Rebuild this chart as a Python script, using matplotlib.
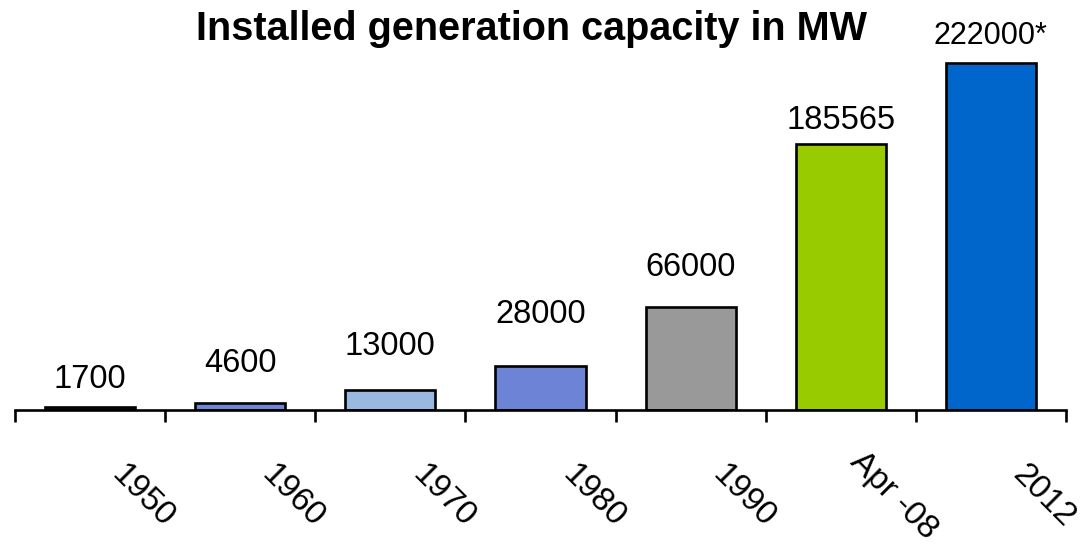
import matplotlib
matplotlib.use("Agg")
import matplotlib.pyplot as plt
import matplotlib.transforms as mtransforms

plt.rcParams["font.family"] = ["Liberation Sans", "DejaVu Sans"]

# data
categories = ["1950", "1960", "1970", "1980", "1990", "Apr -08", "2012"]
bar_heights = [1700, 4600, 13000, 28000, 66000, 170000, 222000]
value_labels = ["1700", "4600", "13000", "28000", "66000", "185565", "222000*"]

colors = ["#1a1a4d", "#6f86d6", "#99b9e1", "#6c83d6", "#999999", "#99cc00", "#0066cc"]
label_gap_px = [19, 31, 35, 43, 31, 15, 19]
label_sizes = [23.5, 23.5, 23.5, 23.5, 23.5, 23.5, 22]

fig = plt.figure(figsize=(10.82, 5.5), dpi=100)
ax = fig.add_axes([15 / 1082, 140 / 550, 1051 / 1082, 370 / 550])

x = list(range(len(categories)))
bars = ax.bar(x, bar_heights, width=0.6, color=colors, edgecolor="black", linewidth=1.9)

for xi, h, txt, gap, fs in zip(x, bar_heights, value_labels, label_gap_px, label_sizes):
    ax.annotate(txt, (xi, h), xytext=(0, gap), textcoords="offset pixels",
                ha="center", va="baseline", fontsize=fs)

ax.set_xlim(-0.5, len(categories) - 0.5)
ax.set_ylim(0, 236700)

# ticks on category boundaries, labels drawn separately
ax.set_xticks([i - 0.5 for i in range(len(categories) + 1)])
ax.set_xticklabels([])
ax.tick_params(axis="x", direction="out", length=8.6, width=1.9)
ax.set_yticks([])
for side in ["left", "right", "top"]:
    ax.spines[side].set_visible(False)
ax.spines["bottom"].set_linewidth(1.9)

offset = mtransforms.ScaledTranslation(0.53, -0.86, fig.dpi_scale_trans)
for xi, cat in zip(x, categories):
    ax.text(xi, 0, cat, transform=ax.get_xaxis_transform() + offset,
            rotation=-45, rotation_mode="anchor", ha="center", va="center",
            fontsize=24, clip_on=False)

fig.text(531 / 1082, 1 - 40 / 550, "Installed generation capacity in MW",
         ha="center", va="baseline", fontsize=28.5, fontweight="bold")

fig.savefig("out.png", dpi=100)
